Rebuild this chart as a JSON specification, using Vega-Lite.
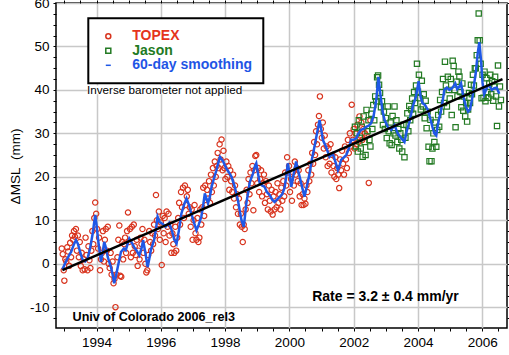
{
  "$schema": "https://vega.github.io/schema/vega-lite/v6.json",
  "autosize": {"type": "none"},
  "width": 451,
  "height": 325,
  "padding": {"left": 56, "top": 3, "right": 2, "bottom": 27},
  "background": "white",
  "config": {
    "view": {"stroke": "black", "strokeWidth": 1.5},
    "font": "Liberation Sans",
    "axis": {"domain": false, "tickColor": "black", "tickSize": 3, "tickWidth": 1, "labelFont": "Liberation Sans", "labelFontSize": 13.5, "labelColor": "black", "gridColor": "#c8c8c8", "gridWidth": 1.5},
    "legend": {"symbolSize": 25, "symbolStrokeWidth": 1.5, "strokeWidth": 2}
  },
  "datasets": {
    "pts": [
      {"s":"TOPEX","t":1992.92,"v":3.5},{"s":"TOPEX","t":1992.95,"v":2.2},{"s":"TOPEX","t":1992.98,"v":-1.5},{"s":"TOPEX","t":1993.00,"v":-3.9},{"s":"TOPEX","t":1993.03,"v":1.0},{"s":"TOPEX","t":1993.06,"v":0.5},{"s":"TOPEX","t":1993.09,"v":3.8},{"s":"TOPEX","t":1993.12,"v":2.8},{"s":"TOPEX","t":1993.15,"v":-0.5},{"s":"TOPEX","t":1993.18,"v":4.8},{"s":"TOPEX","t":1993.21,"v":1.5},{"s":"TOPEX","t":1993.24,"v":6.5},{"s":"TOPEX","t":1993.27,"v":5.5},{"s":"TOPEX","t":1993.30,"v":7.5},{"s":"TOPEX","t":1993.33,"v":6.2},{"s":"TOPEX","t":1993.36,"v":8.0},{"s":"TOPEX","t":1993.39,"v":3.0},{"s":"TOPEX","t":1993.42,"v":6.5},{"s":"TOPEX","t":1993.45,"v":1.5},{"s":"TOPEX","t":1993.48,"v":5.0},{"s":"TOPEX","t":1993.51,"v":-0.5},{"s":"TOPEX","t":1993.54,"v":2.5},{"s":"TOPEX","t":1993.57,"v":-1.5},{"s":"TOPEX","t":1993.60,"v":1.0},{"s":"TOPEX","t":1993.63,"v":-1.3},{"s":"TOPEX","t":1993.66,"v":6.0},{"s":"TOPEX","t":1993.69,"v":2.0},{"s":"TOPEX","t":1993.72,"v":-1.5},{"s":"TOPEX","t":1993.75,"v":4.0},{"s":"TOPEX","t":1993.78,"v":0.8},{"s":"TOPEX","t":1993.81,"v":-1.0},{"s":"TOPEX","t":1993.84,"v":3.0},{"s":"TOPEX","t":1993.87,"v":7.5},{"s":"TOPEX","t":1993.90,"v":4.5},{"s":"TOPEX","t":1993.93,"v":10.5},{"s":"TOPEX","t":1993.96,"v":14.1},{"s":"TOPEX","t":1993.99,"v":11.5},{"s":"TOPEX","t":1994.02,"v":8.0},{"s":"TOPEX","t":1994.05,"v":3.5},{"s":"TOPEX","t":1994.08,"v":6.0},{"s":"TOPEX","t":1994.11,"v":-1.5},{"s":"TOPEX","t":1994.14,"v":1.0},{"s":"TOPEX","t":1994.17,"v":2.5},{"s":"TOPEX","t":1994.20,"v":7.5},{"s":"TOPEX","t":1994.23,"v":0.5},{"s":"TOPEX","t":1994.26,"v":5.5},{"s":"TOPEX","t":1994.29,"v":8.0},{"s":"TOPEX","t":1994.32,"v":3.0},{"s":"TOPEX","t":1994.35,"v":8.5},{"s":"TOPEX","t":1994.38,"v":0.0},{"s":"TOPEX","t":1994.41,"v":-1.0},{"s":"TOPEX","t":1994.44,"v":2.5},{"s":"TOPEX","t":1994.47,"v":-2.5},{"s":"TOPEX","t":1994.50,"v":0.5},{"s":"TOPEX","t":1994.53,"v":-4.5},{"s":"TOPEX","t":1994.56,"v":-3.5},{"s":"TOPEX","t":1994.59,"v":-10.0},{"s":"TOPEX","t":1994.62,"v":-2.5},{"s":"TOPEX","t":1994.65,"v":1.5},{"s":"TOPEX","t":1994.68,"v":5.5},{"s":"TOPEX","t":1994.71,"v":8.8},{"s":"TOPEX","t":1994.74,"v":-2.8},{"s":"TOPEX","t":1994.77,"v":-3.0},{"s":"TOPEX","t":1994.80,"v":5.0},{"s":"TOPEX","t":1994.83,"v":1.0},{"s":"TOPEX","t":1994.86,"v":4.5},{"s":"TOPEX","t":1994.89,"v":6.0},{"s":"TOPEX","t":1994.92,"v":2.5},{"s":"TOPEX","t":1994.95,"v":7.5},{"s":"TOPEX","t":1994.98,"v":11.8},{"s":"TOPEX","t":1995.01,"v":5.0},{"s":"TOPEX","t":1995.04,"v":8.0},{"s":"TOPEX","t":1995.07,"v":1.5},{"s":"TOPEX","t":1995.10,"v":8.5},{"s":"TOPEX","t":1995.13,"v":2.5},{"s":"TOPEX","t":1995.16,"v":9.0},{"s":"TOPEX","t":1995.19,"v":4.0},{"s":"TOPEX","t":1995.22,"v":2.0},{"s":"TOPEX","t":1995.25,"v":5.5},{"s":"TOPEX","t":1995.28,"v":-0.5},{"s":"TOPEX","t":1995.31,"v":3.0},{"s":"TOPEX","t":1995.34,"v":1.0},{"s":"TOPEX","t":1995.37,"v":6.0},{"s":"TOPEX","t":1995.40,"v":4.5},{"s":"TOPEX","t":1995.43,"v":8.0},{"s":"TOPEX","t":1995.46,"v":2.5},{"s":"TOPEX","t":1995.49,"v":5.5},{"s":"TOPEX","t":1995.52,"v":0.0},{"s":"TOPEX","t":1995.55,"v":-2.0},{"s":"TOPEX","t":1995.58,"v":-1.5},{"s":"TOPEX","t":1995.61,"v":2.0},{"s":"TOPEX","t":1995.64,"v":7.5},{"s":"TOPEX","t":1995.67,"v":5.0},{"s":"TOPEX","t":1995.70,"v":3.0},{"s":"TOPEX","t":1995.73,"v":7.0},{"s":"TOPEX","t":1995.76,"v":4.5},{"s":"TOPEX","t":1995.79,"v":9.0},{"s":"TOPEX","t":1995.82,"v":6.5},{"s":"TOPEX","t":1995.85,"v":15.8},{"s":"TOPEX","t":1995.88,"v":10.0},{"s":"TOPEX","t":1995.91,"v":8.0},{"s":"TOPEX","t":1995.94,"v":12.0},{"s":"TOPEX","t":1995.97,"v":5.5},{"s":"TOPEX","t":1996.00,"v":9.5},{"s":"TOPEX","t":1996.03,"v":-0.3},{"s":"TOPEX","t":1996.06,"v":11.0},{"s":"TOPEX","t":1996.09,"v":7.0},{"s":"TOPEX","t":1996.12,"v":10.5},{"s":"TOPEX","t":1996.15,"v":5.0},{"s":"TOPEX","t":1996.18,"v":12.0},{"s":"TOPEX","t":1996.21,"v":8.5},{"s":"TOPEX","t":1996.24,"v":11.5},{"s":"TOPEX","t":1996.27,"v":6.5},{"s":"TOPEX","t":1996.30,"v":9.0},{"s":"TOPEX","t":1996.33,"v":2.5},{"s":"TOPEX","t":1996.36,"v":7.0},{"s":"TOPEX","t":1996.39,"v":4.5},{"s":"TOPEX","t":1996.42,"v":2.5},{"s":"TOPEX","t":1996.45,"v":8.5},{"s":"TOPEX","t":1996.48,"v":3.0},{"s":"TOPEX","t":1996.51,"v":6.0},{"s":"TOPEX","t":1996.54,"v":10.5},{"s":"TOPEX","t":1996.57,"v":14.0},{"s":"TOPEX","t":1996.60,"v":9.0},{"s":"TOPEX","t":1996.63,"v":16.5},{"s":"TOPEX","t":1996.66,"v":13.0},{"s":"TOPEX","t":1996.69,"v":17.5},{"s":"TOPEX","t":1996.72,"v":10.5},{"s":"TOPEX","t":1996.75,"v":18.0},{"s":"TOPEX","t":1996.78,"v":13.5},{"s":"TOPEX","t":1996.81,"v":15.5},{"s":"TOPEX","t":1996.84,"v":17.0},{"s":"TOPEX","t":1996.87,"v":11.5},{"s":"TOPEX","t":1996.90,"v":13.0},{"s":"TOPEX","t":1996.93,"v":8.5},{"s":"TOPEX","t":1996.96,"v":12.5},{"s":"TOPEX","t":1996.99,"v":5.5},{"s":"TOPEX","t":1997.02,"v":10.0},{"s":"TOPEX","t":1997.05,"v":13.5},{"s":"TOPEX","t":1997.08,"v":7.0},{"s":"TOPEX","t":1997.11,"v":5.5},{"s":"TOPEX","t":1997.14,"v":10.5},{"s":"TOPEX","t":1997.17,"v":5.0},{"s":"TOPEX","t":1997.20,"v":6.0},{"s":"TOPEX","t":1997.23,"v":12.5},{"s":"TOPEX","t":1997.26,"v":9.0},{"s":"TOPEX","t":1997.29,"v":13.0},{"s":"TOPEX","t":1997.32,"v":17.5},{"s":"TOPEX","t":1997.35,"v":11.0},{"s":"TOPEX","t":1997.38,"v":18.0},{"s":"TOPEX","t":1997.41,"v":13.5},{"s":"TOPEX","t":1997.44,"v":17.0},{"s":"TOPEX","t":1997.47,"v":15.0},{"s":"TOPEX","t":1997.50,"v":19.0},{"s":"TOPEX","t":1997.53,"v":14.0},{"s":"TOPEX","t":1997.56,"v":20.5},{"s":"TOPEX","t":1997.59,"v":16.5},{"s":"TOPEX","t":1997.62,"v":22.0},{"s":"TOPEX","t":1997.65,"v":18.0},{"s":"TOPEX","t":1997.68,"v":23.5},{"s":"TOPEX","t":1997.71,"v":20.0},{"s":"TOPEX","t":1997.74,"v":22.5},{"s":"TOPEX","t":1997.77,"v":25.5},{"s":"TOPEX","t":1997.80,"v":22.0},{"s":"TOPEX","t":1997.83,"v":27.5},{"s":"TOPEX","t":1997.86,"v":24.0},{"s":"TOPEX","t":1997.89,"v":28.6},{"s":"TOPEX","t":1997.92,"v":21.5},{"s":"TOPEX","t":1997.95,"v":26.0},{"s":"TOPEX","t":1997.98,"v":22.0},{"s":"TOPEX","t":1998.01,"v":19.5},{"s":"TOPEX","t":1998.04,"v":23.5},{"s":"TOPEX","t":1998.07,"v":20.0},{"s":"TOPEX","t":1998.10,"v":22.5},{"s":"TOPEX","t":1998.13,"v":17.0},{"s":"TOPEX","t":1998.16,"v":21.5},{"s":"TOPEX","t":1998.19,"v":19.0},{"s":"TOPEX","t":1998.22,"v":16.5},{"s":"TOPEX","t":1998.25,"v":20.5},{"s":"TOPEX","t":1998.28,"v":15.0},{"s":"TOPEX","t":1998.31,"v":18.0},{"s":"TOPEX","t":1998.34,"v":13.0},{"s":"TOPEX","t":1998.37,"v":16.0},{"s":"TOPEX","t":1998.40,"v":11.5},{"s":"TOPEX","t":1998.43,"v":15.0},{"s":"TOPEX","t":1998.46,"v":9.0},{"s":"TOPEX","t":1998.49,"v":11.5},{"s":"TOPEX","t":1998.52,"v":8.5},{"s":"TOPEX","t":1998.55,"v":5.0},{"s":"TOPEX","t":1998.58,"v":9.0},{"s":"TOPEX","t":1998.61,"v":8.0},{"s":"TOPEX","t":1998.64,"v":12.5},{"s":"TOPEX","t":1998.67,"v":17.0},{"s":"TOPEX","t":1998.70,"v":14.0},{"s":"TOPEX","t":1998.73,"v":19.5},{"s":"TOPEX","t":1998.76,"v":16.0},{"s":"TOPEX","t":1998.79,"v":21.0},{"s":"TOPEX","t":1998.82,"v":18.5},{"s":"TOPEX","t":1998.85,"v":22.5},{"s":"TOPEX","t":1998.88,"v":12.3},{"s":"TOPEX","t":1998.91,"v":21.5},{"s":"TOPEX","t":1998.94,"v":24.8},{"s":"TOPEX","t":1998.97,"v":25.0},{"s":"TOPEX","t":1999.00,"v":18.5},{"s":"TOPEX","t":1999.03,"v":22.0},{"s":"TOPEX","t":1999.06,"v":16.5},{"s":"TOPEX","t":1999.09,"v":19.5},{"s":"TOPEX","t":1999.12,"v":21.5},{"s":"TOPEX","t":1999.15,"v":15.5},{"s":"TOPEX","t":1999.18,"v":18.5},{"s":"TOPEX","t":1999.21,"v":20.5},{"s":"TOPEX","t":1999.24,"v":14.0},{"s":"TOPEX","t":1999.27,"v":19.0},{"s":"TOPEX","t":1999.30,"v":16.0},{"s":"TOPEX","t":1999.33,"v":12.5},{"s":"TOPEX","t":1999.36,"v":18.0},{"s":"TOPEX","t":1999.39,"v":14.5},{"s":"TOPEX","t":1999.42,"v":12.0},{"s":"TOPEX","t":1999.45,"v":17.0},{"s":"TOPEX","t":1999.48,"v":11.3},{"s":"TOPEX","t":1999.51,"v":15.5},{"s":"TOPEX","t":1999.54,"v":12.5},{"s":"TOPEX","t":1999.57,"v":16.5},{"s":"TOPEX","t":1999.60,"v":13.0},{"s":"TOPEX","t":1999.63,"v":18.5},{"s":"TOPEX","t":1999.66,"v":14.0},{"s":"TOPEX","t":1999.69,"v":16.0},{"s":"TOPEX","t":1999.72,"v":12.5},{"s":"TOPEX","t":1999.75,"v":17.5},{"s":"TOPEX","t":1999.78,"v":14.5},{"s":"TOPEX","t":1999.81,"v":19.0},{"s":"TOPEX","t":1999.84,"v":15.5},{"s":"TOPEX","t":1999.87,"v":21.0},{"s":"TOPEX","t":1999.90,"v":18.0},{"s":"TOPEX","t":1999.93,"v":24.5},{"s":"TOPEX","t":1999.96,"v":21.0},{"s":"TOPEX","t":1999.99,"v":22.5},{"s":"TOPEX","t":2000.02,"v":16.5},{"s":"TOPEX","t":2000.05,"v":19.5},{"s":"TOPEX","t":2000.08,"v":14.5},{"s":"TOPEX","t":2000.11,"v":21.0},{"s":"TOPEX","t":2000.14,"v":18.0},{"s":"TOPEX","t":2000.17,"v":23.5},{"s":"TOPEX","t":2000.20,"v":20.5},{"s":"TOPEX","t":2000.23,"v":22.0},{"s":"TOPEX","t":2000.26,"v":19.0},{"s":"TOPEX","t":2000.29,"v":21.5},{"s":"TOPEX","t":2000.32,"v":15.5},{"s":"TOPEX","t":2000.35,"v":18.5},{"s":"TOPEX","t":2000.38,"v":13.5},{"s":"TOPEX","t":2000.41,"v":16.0},{"s":"TOPEX","t":2000.44,"v":13.5},{"s":"TOPEX","t":2000.47,"v":15.0},{"s":"TOPEX","t":2000.50,"v":13.8},{"s":"TOPEX","t":2000.53,"v":18.0},{"s":"TOPEX","t":2000.56,"v":16.5},{"s":"TOPEX","t":2000.59,"v":21.5},{"s":"TOPEX","t":2000.62,"v":19.0},{"s":"TOPEX","t":2000.65,"v":23.0},{"s":"TOPEX","t":2000.68,"v":20.5},{"s":"TOPEX","t":2000.71,"v":25.5},{"s":"TOPEX","t":2000.74,"v":23.0},{"s":"TOPEX","t":2000.77,"v":28.0},{"s":"TOPEX","t":2000.80,"v":25.0},{"s":"TOPEX","t":2000.83,"v":30.5},{"s":"TOPEX","t":2000.86,"v":27.5},{"s":"TOPEX","t":2000.89,"v":32.0},{"s":"TOPEX","t":2000.92,"v":34.0},{"s":"TOPEX","t":2000.95,"v":38.5},{"s":"TOPEX","t":2000.98,"v":31.0},{"s":"TOPEX","t":2001.01,"v":29.0},{"s":"TOPEX","t":2001.04,"v":32.5},{"s":"TOPEX","t":2001.07,"v":26.5},{"s":"TOPEX","t":2001.10,"v":29.5},{"s":"TOPEX","t":2001.13,"v":24.5},{"s":"TOPEX","t":2001.16,"v":27.0},{"s":"TOPEX","t":2001.19,"v":22.5},{"s":"TOPEX","t":2001.22,"v":26.5},{"s":"TOPEX","t":2001.25,"v":23.0},{"s":"TOPEX","t":2001.28,"v":27.5},{"s":"TOPEX","t":2001.31,"v":21.0},{"s":"TOPEX","t":2001.34,"v":25.0},{"s":"TOPEX","t":2001.37,"v":22.5},{"s":"TOPEX","t":2001.40,"v":20.0},{"s":"TOPEX","t":2001.43,"v":24.5},{"s":"TOPEX","t":2001.46,"v":19.5},{"s":"TOPEX","t":2001.49,"v":22.0},{"s":"TOPEX","t":2001.52,"v":20.5},{"s":"TOPEX","t":2001.55,"v":17.4},{"s":"TOPEX","t":2001.58,"v":24.0},{"s":"TOPEX","t":2001.61,"v":21.5},{"s":"TOPEX","t":2001.64,"v":26.0},{"s":"TOPEX","t":2001.67,"v":23.0},{"s":"TOPEX","t":2001.70,"v":20.5},{"s":"TOPEX","t":2001.73,"v":27.0},{"s":"TOPEX","t":2001.76,"v":24.0},{"s":"TOPEX","t":2001.79,"v":22.0},{"s":"TOPEX","t":2001.82,"v":28.5},{"s":"TOPEX","t":2001.85,"v":25.5},{"s":"TOPEX","t":2001.88,"v":30.0},{"s":"TOPEX","t":2001.91,"v":27.0},{"s":"TOPEX","t":2001.94,"v":36.6},{"s":"TOPEX","t":2001.97,"v":28.5},{"s":"TOPEX","t":2002.00,"v":31.0},{"s":"TOPEX","t":2002.03,"v":26.5},{"s":"TOPEX","t":2002.06,"v":30.0},{"s":"TOPEX","t":2002.09,"v":27.5},{"s":"TOPEX","t":2002.12,"v":32.0},{"s":"TOPEX","t":2002.15,"v":28.0},{"s":"TOPEX","t":2002.18,"v":33.9},{"s":"TOPEX","t":2002.21,"v":29.5},{"s":"TOPEX","t":2002.24,"v":32.5},{"s":"TOPEX","t":2002.27,"v":28.5},{"s":"TOPEX","t":2002.30,"v":31.0},{"s":"TOPEX","t":2002.35,"v":30.0},{"s":"TOPEX","t":2002.40,"v":29.5},{"s":"TOPEX","t":2002.47,"v":18.6},{"s":"TOPEX","t":2002.52,"v":33.0},
      {"s":"Jason","t":2002.04,"v":31.5},{"s":"Jason","t":2002.07,"v":27.0},{"s":"Jason","t":2002.10,"v":30.0},{"s":"Jason","t":2002.13,"v":25.8},{"s":"Jason","t":2002.16,"v":33.0},{"s":"Jason","t":2002.19,"v":29.0},{"s":"Jason","t":2002.22,"v":26.5},{"s":"Jason","t":2002.25,"v":31.5},{"s":"Jason","t":2002.28,"v":24.6},{"s":"Jason","t":2002.31,"v":33.9},{"s":"Jason","t":2002.34,"v":28.0},{"s":"Jason","t":2002.37,"v":25.0},{"s":"Jason","t":2002.40,"v":35.4},{"s":"Jason","t":2002.43,"v":30.5},{"s":"Jason","t":2002.46,"v":33.0},{"s":"Jason","t":2002.49,"v":28.5},{"s":"Jason","t":2002.52,"v":27.0},{"s":"Jason","t":2002.55,"v":34.5},{"s":"Jason","t":2002.58,"v":31.0},{"s":"Jason","t":2002.61,"v":36.5},{"s":"Jason","t":2002.64,"v":33.0},{"s":"Jason","t":2002.67,"v":38.5},{"s":"Jason","t":2002.70,"v":37.4},{"s":"Jason","t":2002.73,"v":42.9},{"s":"Jason","t":2002.76,"v":43.3},{"s":"Jason","t":2002.79,"v":41.2},{"s":"Jason","t":2002.82,"v":39.3},{"s":"Jason","t":2002.85,"v":36.0},{"s":"Jason","t":2002.88,"v":37.4},{"s":"Jason","t":2002.91,"v":31.9},{"s":"Jason","t":2002.94,"v":35.0},{"s":"Jason","t":2002.97,"v":31.0},{"s":"Jason","t":2003.00,"v":33.5},{"s":"Jason","t":2003.03,"v":28.9},{"s":"Jason","t":2003.06,"v":36.2},{"s":"Jason","t":2003.09,"v":30.5},{"s":"Jason","t":2003.12,"v":27.7},{"s":"Jason","t":2003.15,"v":32.5},{"s":"Jason","t":2003.18,"v":27.3},{"s":"Jason","t":2003.21,"v":34.0},{"s":"Jason","t":2003.24,"v":30.0},{"s":"Jason","t":2003.27,"v":36.2},{"s":"Jason","t":2003.30,"v":29.5},{"s":"Jason","t":2003.33,"v":33.0},{"s":"Jason","t":2003.36,"v":28.0},{"s":"Jason","t":2003.39,"v":31.0},{"s":"Jason","t":2003.42,"v":26.5},{"s":"Jason","t":2003.45,"v":30.0},{"s":"Jason","t":2003.48,"v":28.5},{"s":"Jason","t":2003.51,"v":25.8},{"s":"Jason","t":2003.55,"v":32.0},{"s":"Jason","t":2003.58,"v":24.5},{"s":"Jason","t":2003.61,"v":29.0},{"s":"Jason","t":2003.64,"v":31.9},{"s":"Jason","t":2003.67,"v":34.6},{"s":"Jason","t":2003.70,"v":30.5},{"s":"Jason","t":2003.73,"v":36.3},{"s":"Jason","t":2003.76,"v":33.0},{"s":"Jason","t":2003.79,"v":35.5},{"s":"Jason","t":2003.82,"v":38.0},{"s":"Jason","t":2003.85,"v":34.5},{"s":"Jason","t":2003.88,"v":39.5},{"s":"Jason","t":2003.91,"v":37.0},{"s":"Jason","t":2003.94,"v":41.0},{"s":"Jason","t":2003.97,"v":46.0},{"s":"Jason","t":2004.00,"v":39.6},{"s":"Jason","t":2004.03,"v":43.5},{"s":"Jason","t":2004.06,"v":38.1},{"s":"Jason","t":2004.09,"v":35.5},{"s":"Jason","t":2004.12,"v":42.1},{"s":"Jason","t":2004.15,"v":36.2},{"s":"Jason","t":2004.18,"v":39.0},{"s":"Jason","t":2004.21,"v":33.5},{"s":"Jason","t":2004.24,"v":37.5},{"s":"Jason","t":2004.27,"v":31.2},{"s":"Jason","t":2004.30,"v":35.0},{"s":"Jason","t":2004.33,"v":26.9},{"s":"Jason","t":2004.36,"v":23.6},{"s":"Jason","t":2004.39,"v":33.1},{"s":"Jason","t":2004.42,"v":23.6},{"s":"Jason","t":2004.45,"v":26.5},{"s":"Jason","t":2004.48,"v":30.0},{"s":"Jason","t":2004.51,"v":28.0},{"s":"Jason","t":2004.54,"v":32.5},{"s":"Jason","t":2004.57,"v":26.9},{"s":"Jason","t":2004.60,"v":30.8},{"s":"Jason","t":2004.63,"v":34.2},{"s":"Jason","t":2004.66,"v":31.5},{"s":"Jason","t":2004.69,"v":37.7},{"s":"Jason","t":2004.72,"v":35.0},{"s":"Jason","t":2004.75,"v":39.5},{"s":"Jason","t":2004.78,"v":42.5},{"s":"Jason","t":2004.81,"v":37.0},{"s":"Jason","t":2004.84,"v":46.5},{"s":"Jason","t":2004.87,"v":41.0},{"s":"Jason","t":2004.90,"v":36.2},{"s":"Jason","t":2004.93,"v":43.0},{"s":"Jason","t":2004.96,"v":40.0},{"s":"Jason","t":2004.99,"v":38.0},{"s":"Jason","t":2005.02,"v":42.5},{"s":"Jason","t":2005.05,"v":34.2},{"s":"Jason","t":2005.08,"v":46.7},{"s":"Jason","t":2005.11,"v":45.5},{"s":"Jason","t":2005.14,"v":40.0},{"s":"Jason","t":2005.17,"v":31.4},{"s":"Jason","t":2005.20,"v":41.9},{"s":"Jason","t":2005.23,"v":38.5},{"s":"Jason","t":2005.26,"v":44.2},{"s":"Jason","t":2005.29,"v":43.1},{"s":"Jason","t":2005.32,"v":39.5},{"s":"Jason","t":2005.35,"v":36.0},{"s":"Jason","t":2005.38,"v":41.5},{"s":"Jason","t":2005.41,"v":35.2},{"s":"Jason","t":2005.44,"v":38.5},{"s":"Jason","t":2005.47,"v":33.9},{"s":"Jason","t":2005.50,"v":37.0},{"s":"Jason","t":2005.53,"v":32.7},{"s":"Jason","t":2005.56,"v":35.5},{"s":"Jason","t":2005.59,"v":39.3},{"s":"Jason","t":2005.62,"v":37.0},{"s":"Jason","t":2005.65,"v":41.2},{"s":"Jason","t":2005.68,"v":39.0},{"s":"Jason","t":2005.71,"v":43.5},{"s":"Jason","t":2005.74,"v":41.0},{"s":"Jason","t":2005.77,"v":45.0},{"s":"Jason","t":2005.80,"v":45.0},{"s":"Jason","t":2005.83,"v":48.0},{"s":"Jason","t":2005.86,"v":51.4},{"s":"Jason","t":2005.89,"v":57.6},{"s":"Jason","t":2005.92,"v":51.4},{"s":"Jason","t":2005.95,"v":46.0},{"s":"Jason","t":2005.98,"v":38.1},{"s":"Jason","t":2006.01,"v":43.5},{"s":"Jason","t":2006.04,"v":38.2},{"s":"Jason","t":2006.07,"v":44.2},{"s":"Jason","t":2006.10,"v":37.4},{"s":"Jason","t":2006.13,"v":42.7},{"s":"Jason","t":2006.16,"v":39.5},{"s":"Jason","t":2006.19,"v":38.2},{"s":"Jason","t":2006.22,"v":41.5},{"s":"Jason","t":2006.25,"v":43.5},{"s":"Jason","t":2006.28,"v":39.0},{"s":"Jason","t":2006.31,"v":42.0},{"s":"Jason","t":2006.34,"v":37.5},{"s":"Jason","t":2006.37,"v":40.8},{"s":"Jason","t":2006.40,"v":43.0},{"s":"Jason","t":2006.43,"v":38.5},{"s":"Jason","t":2006.46,"v":31.7},{"s":"Jason","t":2006.49,"v":45.6},{"s":"Jason","t":2006.52,"v":36.2},{"s":"Jason","t":2006.55,"v":40.8},{"s":"Jason","t":2006.58,"v":37.7}
    ],
    "smooth": [
      {"s":"60-day smoothing","t":1992.94,"v":-1.3},{"s":"60-day smoothing","t":1993.05,"v":0.5},{"s":"60-day smoothing","t":1993.15,"v":2.0},{"s":"60-day smoothing","t":1993.21,"v":2.7},{"s":"60-day smoothing","t":1993.30,"v":4.5},{"s":"60-day smoothing","t":1993.36,"v":5.4},{"s":"60-day smoothing","t":1993.42,"v":4.6},{"s":"60-day smoothing","t":1993.50,"v":2.5},{"s":"60-day smoothing","t":1993.57,"v":0.8},{"s":"60-day smoothing","t":1993.65,"v":0.5},{"s":"60-day smoothing","t":1993.72,"v":1.2},{"s":"60-day smoothing","t":1993.80,"v":3.5},{"s":"60-day smoothing","t":1993.88,"v":6.9},{"s":"60-day smoothing","t":1993.96,"v":11.2},{"s":"60-day smoothing","t":1994.00,"v":9.0},{"s":"60-day smoothing","t":1994.05,"v":5.5},{"s":"60-day smoothing","t":1994.14,"v":0.4},{"s":"60-day smoothing","t":1994.20,"v":3.0},{"s":"60-day smoothing","t":1994.24,"v":5.0},{"s":"60-day smoothing","t":1994.30,"v":3.5},{"s":"60-day smoothing","t":1994.35,"v":1.5},{"s":"60-day smoothing","t":1994.45,"v":-0.8},{"s":"60-day smoothing","t":1994.50,"v":-2.5},{"s":"60-day smoothing","t":1994.55,"v":-4.5},{"s":"60-day smoothing","t":1994.60,"v":-3.0},{"s":"60-day smoothing","t":1994.66,"v":-0.8},{"s":"60-day smoothing","t":1994.76,"v":2.7},{"s":"60-day smoothing","t":1994.85,"v":3.5},{"s":"60-day smoothing","t":1994.91,"v":3.1},{"s":"60-day smoothing","t":1995.02,"v":5.8},{"s":"60-day smoothing","t":1995.10,"v":4.8},{"s":"60-day smoothing","t":1995.17,"v":3.8},{"s":"60-day smoothing","t":1995.25,"v":3.0},{"s":"60-day smoothing","t":1995.33,"v":1.9},{"s":"60-day smoothing","t":1995.40,"v":3.5},{"s":"60-day smoothing","t":1995.45,"v":5.4},{"s":"60-day smoothing","t":1995.52,"v":2.5},{"s":"60-day smoothing","t":1995.59,"v":-0.8},{"s":"60-day smoothing","t":1995.64,"v":1.0},{"s":"60-day smoothing","t":1995.69,"v":3.1},{"s":"60-day smoothing","t":1995.79,"v":5.4},{"s":"60-day smoothing","t":1995.85,"v":8.0},{"s":"60-day smoothing","t":1995.90,"v":10.8},{"s":"60-day smoothing","t":1995.97,"v":9.5},{"s":"60-day smoothing","t":1996.05,"v":9.2},{"s":"60-day smoothing","t":1996.15,"v":8.5},{"s":"60-day smoothing","t":1996.26,"v":9.4},{"s":"60-day smoothing","t":1996.35,"v":7.5},{"s":"60-day smoothing","t":1996.42,"v":5.5},{"s":"60-day smoothing","t":1996.49,"v":4.6},{"s":"60-day smoothing","t":1996.56,"v":7.5},{"s":"60-day smoothing","t":1996.64,"v":11.5},{"s":"60-day smoothing","t":1996.72,"v":13.5},{"s":"60-day smoothing","t":1996.80,"v":15.0},{"s":"60-day smoothing","t":1996.88,"v":13.5},{"s":"60-day smoothing","t":1996.95,"v":11.5},{"s":"60-day smoothing","t":1997.03,"v":9.5},{"s":"60-day smoothing","t":1997.11,"v":7.7},{"s":"60-day smoothing","t":1997.18,"v":9.0},{"s":"60-day smoothing","t":1997.26,"v":10.8},{"s":"60-day smoothing","t":1997.32,"v":13.5},{"s":"60-day smoothing","t":1997.37,"v":16.2},{"s":"60-day smoothing","t":1997.42,"v":15.0},{"s":"60-day smoothing","t":1997.47,"v":13.9},{"s":"60-day smoothing","t":1997.53,"v":15.5},{"s":"60-day smoothing","t":1997.58,"v":17.7},{"s":"60-day smoothing","t":1997.65,"v":19.5},{"s":"60-day smoothing","t":1997.73,"v":21.5},{"s":"60-day smoothing","t":1997.80,"v":23.5},{"s":"60-day smoothing","t":1997.84,"v":24.6},{"s":"60-day smoothing","t":1997.90,"v":24.0},{"s":"60-day smoothing","t":1997.94,"v":23.5},{"s":"60-day smoothing","t":1998.04,"v":21.9},{"s":"60-day smoothing","t":1998.12,"v":21.0},{"s":"60-day smoothing","t":1998.20,"v":20.0},{"s":"60-day smoothing","t":1998.30,"v":17.7},{"s":"60-day smoothing","t":1998.40,"v":14.6},{"s":"60-day smoothing","t":1998.46,"v":12.0},{"s":"60-day smoothing","t":1998.51,"v":10.0},{"s":"60-day smoothing","t":1998.58,"v":8.5},{"s":"60-day smoothing","t":1998.62,"v":11.0},{"s":"60-day smoothing","t":1998.66,"v":13.9},{"s":"60-day smoothing","t":1998.72,"v":16.5},{"s":"60-day smoothing","t":1998.77,"v":18.8},{"s":"60-day smoothing","t":1998.87,"v":20.8},{"s":"60-day smoothing","t":1998.93,"v":22.5},{"s":"60-day smoothing","t":1998.97,"v":23.1},{"s":"60-day smoothing","t":1999.03,"v":20.5},{"s":"60-day smoothing","t":1999.08,"v":18.5},{"s":"60-day smoothing","t":1999.15,"v":18.0},{"s":"60-day smoothing","t":1999.23,"v":17.7},{"s":"60-day smoothing","t":1999.30,"v":16.5},{"s":"60-day smoothing","t":1999.39,"v":15.8},{"s":"60-day smoothing","t":1999.46,"v":14.8},{"s":"60-day smoothing","t":1999.54,"v":14.2},{"s":"60-day smoothing","t":1999.62,"v":14.8},{"s":"60-day smoothing","t":1999.70,"v":15.4},{"s":"60-day smoothing","t":1999.78,"v":16.0},{"s":"60-day smoothing","t":1999.85,"v":17.5},{"s":"60-day smoothing","t":1999.91,"v":20.5},{"s":"60-day smoothing","t":1999.95,"v":23.1},{"s":"60-day smoothing","t":2000.01,"v":20.5},{"s":"60-day smoothing","t":2000.06,"v":17.7},{"s":"60-day smoothing","t":2000.13,"v":20.5},{"s":"60-day smoothing","t":2000.21,"v":23.5},{"s":"60-day smoothing","t":2000.27,"v":21.5},{"s":"60-day smoothing","t":2000.32,"v":20.0},{"s":"60-day smoothing","t":2000.40,"v":17.5},{"s":"60-day smoothing","t":2000.47,"v":15.4},{"s":"60-day smoothing","t":2000.55,"v":18.0},{"s":"60-day smoothing","t":2000.63,"v":20.8},{"s":"60-day smoothing","t":2000.70,"v":24.0},{"s":"60-day smoothing","t":2000.78,"v":26.9},{"s":"60-day smoothing","t":2000.86,"v":30.0},{"s":"60-day smoothing","t":2000.94,"v":33.1},{"s":"60-day smoothing","t":2001.00,"v":30.5},{"s":"60-day smoothing","t":2001.04,"v":28.5},{"s":"60-day smoothing","t":2001.14,"v":26.9},{"s":"60-day smoothing","t":2001.25,"v":24.6},{"s":"60-day smoothing","t":2001.35,"v":25.4},{"s":"60-day smoothing","t":2001.43,"v":23.5},{"s":"60-day smoothing","t":2001.51,"v":21.5},{"s":"60-day smoothing","t":2001.56,"v":22.5},{"s":"60-day smoothing","t":2001.61,"v":23.9},{"s":"60-day smoothing","t":2001.70,"v":24.5},{"s":"60-day smoothing","t":2001.77,"v":25.0},{"s":"60-day smoothing","t":2001.85,"v":26.5},{"s":"60-day smoothing","t":2001.92,"v":28.5},{"s":"60-day smoothing","t":2002.00,"v":28.5},{"s":"60-day smoothing","t":2002.08,"v":28.9},{"s":"60-day smoothing","t":2002.15,"v":30.0},{"s":"60-day smoothing","t":2002.23,"v":30.8},{"s":"60-day smoothing","t":2002.31,"v":31.0},{"s":"60-day smoothing","t":2002.39,"v":31.5},{"s":"60-day smoothing","t":2002.47,"v":31.8},{"s":"60-day smoothing","t":2002.54,"v":32.3},{"s":"60-day smoothing","t":2002.62,"v":34.0},{"s":"60-day smoothing","t":2002.70,"v":37.5},{"s":"60-day smoothing","t":2002.77,"v":43.0},{"s":"60-day smoothing","t":2002.83,"v":39.0},{"s":"60-day smoothing","t":2002.90,"v":35.0},{"s":"60-day smoothing","t":2002.96,"v":33.1},{"s":"60-day smoothing","t":2003.06,"v":31.5},{"s":"60-day smoothing","t":2003.17,"v":30.8},{"s":"60-day smoothing","t":2003.27,"v":31.9},{"s":"60-day smoothing","t":2003.37,"v":30.0},{"s":"60-day smoothing","t":2003.47,"v":29.0},{"s":"60-day smoothing","t":2003.58,"v":28.0},{"s":"60-day smoothing","t":2003.65,"v":30.5},{"s":"60-day smoothing","t":2003.73,"v":32.5},{"s":"60-day smoothing","t":2003.84,"v":36.2},{"s":"60-day smoothing","t":2003.94,"v":38.5},{"s":"60-day smoothing","t":2004.02,"v":42.0},{"s":"60-day smoothing","t":2004.08,"v":38.5},{"s":"60-day smoothing","t":2004.14,"v":37.0},{"s":"60-day smoothing","t":2004.22,"v":36.5},{"s":"60-day smoothing","t":2004.30,"v":35.5},{"s":"60-day smoothing","t":2004.38,"v":33.5},{"s":"60-day smoothing","t":2004.45,"v":31.5},{"s":"60-day smoothing","t":2004.51,"v":30.0},{"s":"60-day smoothing","t":2004.57,"v":29.5},{"s":"60-day smoothing","t":2004.61,"v":31.5},{"s":"60-day smoothing","t":2004.66,"v":33.5},{"s":"60-day smoothing","t":2004.71,"v":35.0},{"s":"60-day smoothing","t":2004.78,"v":38.0},{"s":"60-day smoothing","t":2004.82,"v":40.0},{"s":"60-day smoothing","t":2004.90,"v":40.5},{"s":"60-day smoothing","t":2004.98,"v":40.0},{"s":"60-day smoothing","t":2005.08,"v":40.5},{"s":"60-day smoothing","t":2005.16,"v":41.5},{"s":"60-day smoothing","t":2005.22,"v":40.2},{"s":"60-day smoothing","t":2005.29,"v":40.8},{"s":"60-day smoothing","t":2005.34,"v":41.5},{"s":"60-day smoothing","t":2005.41,"v":38.5},{"s":"60-day smoothing","t":2005.49,"v":36.2},{"s":"60-day smoothing","t":2005.56,"v":35.0},{"s":"60-day smoothing","t":2005.62,"v":35.5},{"s":"60-day smoothing","t":2005.70,"v":38.5},{"s":"60-day smoothing","t":2005.76,"v":42.0},{"s":"60-day smoothing","t":2005.80,"v":44.0},{"s":"60-day smoothing","t":2005.86,"v":48.5},{"s":"60-day smoothing","t":2005.91,"v":51.0},{"s":"60-day smoothing","t":2005.96,"v":47.0},{"s":"60-day smoothing","t":2006.01,"v":41.6},{"s":"60-day smoothing","t":2006.06,"v":39.0},{"s":"60-day smoothing","t":2006.16,"v":40.8},{"s":"60-day smoothing","t":2006.22,"v":41.0},{"s":"60-day smoothing","t":2006.30,"v":40.0},{"s":"60-day smoothing","t":2006.37,"v":40.4},{"s":"60-day smoothing","t":2006.45,"v":40.5},{"s":"60-day smoothing","t":2006.53,"v":39.1}
    ]
  },
  "resolve": {"axis": {"x": "independent", "y": "independent"}},
  "layer": [
    {
      "data": {"name": "pts"},
      "mark": {"type": "point", "filled": false, "size": 28, "strokeWidth": 1.2, "opacity": 1},
      "encoding": {
        "x": {"field": "t", "type": "quantitative", "scale": {"domain": [1992.74, 2006.77], "nice": false, "zero": false},
          "axis": {"orient": "bottom", "title": null, "values": [1993,1993.5,1994,1994.5,1995,1995.5,1996,1996.5,1997,1997.5,1998,1998.5,1999,1999.5,2000,2000.5,2001,2001.5,2002,2002.5,2003,2003.5,2004,2004.5,2005,2005.5,2006,2006.5],
            "labelExpr": "datum.value % 2 === 0 ? '' + datum.value : ''", "labelPadding": 4, "labelFlush": false, "labelOverlap": false,
            "grid": true, "gridOpacity": {"condition": {"test": "datum.value % 2 === 0", "value": 1}, "value": 0}}},
        "y": {"field": "v", "type": "quantitative", "scale": {"domain": [-14.8, 60], "nice": false, "zero": false},
          "axis": {"orient": "left", "title": "ΔMSL\u00a0\u00a0(mm)", "titleFont": "Liberation Sans", "titleFontSize": 13.5, "titleFontWeight": "normal", "titleColor": "black", "titleAngle": -90, "titleX": -41, "titleY": 163, "titleAlign": "center", "titleBaseline": "middle",
            "values": [-12.5,-10,-7.5,-5,-2.5,0,2.5,5,7.5,10,12.5,15,17.5,20,22.5,25,27.5,30,32.5,35,37.5,40,42.5,45,47.5,50,52.5,55,57.5,60],
            "labelExpr": "datum.value % 10 === 0 ? '' + datum.value : ''", "labelPadding": 4, "labelFlush": false, "labelOverlap": false,
            "grid": true, "gridOpacity": {"condition": {"test": "datum.value % 10 === 0", "value": 1}, "value": 0}}},
        "color": {"field": "s", "type": "nominal", "scale": {"domain": ["TOPEX", "Jason", "60-day smoothing"], "range": ["#d8341e", "#237a23", "#1f58e6"]},
          "legend": {"title": null, "orient": "none", "legendX": 32.3, "legendY": 15.3, "padding": 11, "rowPadding": 0.5, "strokeColor": "black", "fillColor": "white", "labelFont": "Liberation Sans", "labelFontSize": 14, "labelFontWeight": "bold", "labelOffset": 17, "symbolOffset": 2,
            "labelColor": {"expr": "datum.value === 'TOPEX' ? '#e5341c' : datum.value === 'Jason' ? '#227a22' : '#1f55e5'"}}},
        "shape": {"field": "s", "type": "nominal", "scale": {"domain": ["TOPEX", "Jason", "60-day smoothing"], "range": ["circle", "square", "stroke"]}}
      }
    },
    {
      "data": {"name": "smooth"},
      "mark": {"type": "line", "strokeWidth": 2.5},
      "encoding": {
        "x": {"field": "t", "type": "quantitative", "scale": {"domain": [1992.74, 2006.77], "nice": false, "zero": false},
          "axis": {"orient": "top", "title": null, "labels": false, "grid": false, "values": [1993,1993.5,1994,1994.5,1995,1995.5,1996,1996.5,1997,1997.5,1998,1998.5,1999,1999.5,2000,2000.5,2001,2001.5,2002,2002.5,2003,2003.5,2004,2004.5,2005,2005.5,2006,2006.5]}},
        "y": {"field": "v", "type": "quantitative", "scale": {"domain": [-14.8, 60], "nice": false, "zero": false},
          "axis": {"orient": "right", "title": null, "labels": false, "grid": false, "values": [-12.5,-10,-7.5,-5,-2.5,0,2.5,5,7.5,10,12.5,15,17.5,20,22.5,25,27.5,30,32.5,35,37.5,40,42.5,45,47.5,50,52.5,55,57.5,60]}},
        "color": {"field": "s", "type": "nominal", "legend": null}
      }
    },
    {
      "data": {"values": [{}]},
      "mark": {"type": "rule", "color": "black", "strokeWidth": 2.5},
      "encoding": {
        "x": {"datum": 1992.94, "type": "quantitative", "axis": null},
        "y": {"datum": -1.5, "type": "quantitative", "axis": null},
        "x2": {"datum": 2006.63},
        "y2": {"datum": 42.5}
      }
    },
    {
      "data": {"values": [{}]},
      "mark": {"type": "rect", "color": "white"},
      "encoding": {
        "x": {"datum": 1993.72, "type": "quantitative", "axis": null},
        "x2": {"datum": 1998.52},
        "y": {"datum": 39.0, "type": "quantitative", "axis": null},
        "y2": {"datum": 41.0}
      }
    },
    {
      "data": {"values": [{}]},
      "mark": {"type": "text", "font": "Liberation Sans", "fontSize": 11.7, "color": "black", "align": "center", "baseline": "middle"},
      "encoding": {
        "x": {"datum": 1996.12, "type": "quantitative", "axis": null},
        "y": {"datum": 40.0, "type": "quantitative", "axis": null},
        "text": {"value": "Inverse barometer not applied"}
      }
    },
    {
      "data": {"values": [{}]},
      "mark": {"type": "text", "font": "Liberation Sans", "fontSize": 14, "fontWeight": "bold", "color": "black", "align": "center", "baseline": "middle"},
      "encoding": {
        "x": {"datum": 2002.99, "type": "quantitative", "axis": null},
        "y": {"datum": -7.7, "type": "quantitative", "axis": null},
        "text": {"value": "Rate = 3.2 ± 0.4 mm/yr"}
      }
    },
    {
      "data": {"values": [{}]},
      "mark": {"type": "text", "font": "Liberation Sans", "fontSize": 12.6, "fontWeight": "bold", "color": "black", "align": "center", "baseline": "middle"},
      "encoding": {
        "x": {"datum": 1995.78, "type": "quantitative", "axis": null},
        "y": {"datum": -12.36, "type": "quantitative", "axis": null},
        "text": {"value": "Univ of Colorado 2006_rel3"}
      }
    }
  ]
}
